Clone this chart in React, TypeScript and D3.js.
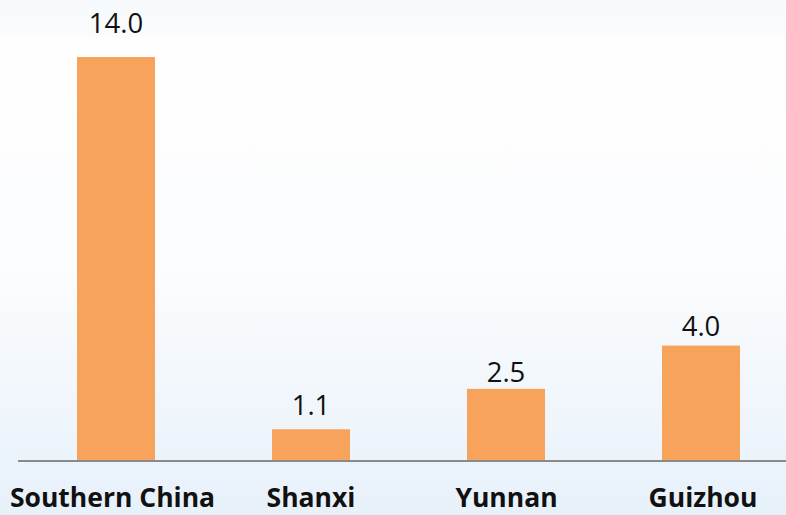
import React from "react";
import * as d3 from "d3";

const categories = ["Southern China", "Shanxi", "Yunnan", "Guizhou"];
const values = [14.0, 1.1, 2.5, 4.0];
const valueLabels = ["14.0", "1.1", "2.5", "4.0"];

// label placement (style): distance between label baseline and bar top
const LABEL_GAPS = [24, 14, 7, 10];
const CAT_NUDGE = [-3.5, 0, 0.5, 2];

const W = 786;
const H = 515;

export default function App() {
  const x = d3
    .scaleBand<string>()
    .domain(categories)
    .range([18.5, 798.5])
    .paddingInner(0.6)
    .paddingOuter(0.3);
  const baseY = 461;
  const y = d3.scaleLinear().domain([0, 14]).range([baseY, 57]);

  return (
    <svg
      width={W}
      height={H}
      style={{ position: "absolute", left: 0, top: 0 }}
      fontFamily="'Open Sans', sans-serif"
    >
      <defs>
        <linearGradient id="bg" x1="0" y1="0" x2="0" y2="1">
          <stop offset="0" stopColor="#f7fafd" />
          <stop offset="0.065" stopColor="#f9fbfd" />
          <stop offset="0.075" stopColor="#fefeff" />
          <stop offset="0.5" stopColor="#fcfdfe" />
          <stop offset="1" stopColor="#e7f1fa" />
        </linearGradient>
      </defs>
      <rect x={0} y={0} width={W} height={H} fill="url(#bg)" />
      {categories.map((c, i) => (
        <g key={c}>
          <rect
            x={x(c)}
            y={y(values[i])}
            width={x.bandwidth()}
            height={baseY - y(values[i])}
            fill="#f7a35c"
          />
          <text
            x={(x(c) ?? 0) + x.bandwidth() / 2}
            y={y(values[i]) - LABEL_GAPS[i]}
            textAnchor="middle"
            fontSize={27.5}
            fill="#111"
          >
            {valueLabels[i]}
          </text>
          <text
            x={(x(c) ?? 0) + x.bandwidth() / 2 + CAT_NUDGE[i]}
            y={507}
            textAnchor="middle"
            fontSize={26.5}
            fontWeight="bold"
            fill="#111"
          >
            {c}
          </text>
        </g>
      ))}
      <line x1={18} x2={786} y1={baseY} y2={baseY} stroke="#8a8a8a" strokeWidth={2} />
    </svg>
  );
}
